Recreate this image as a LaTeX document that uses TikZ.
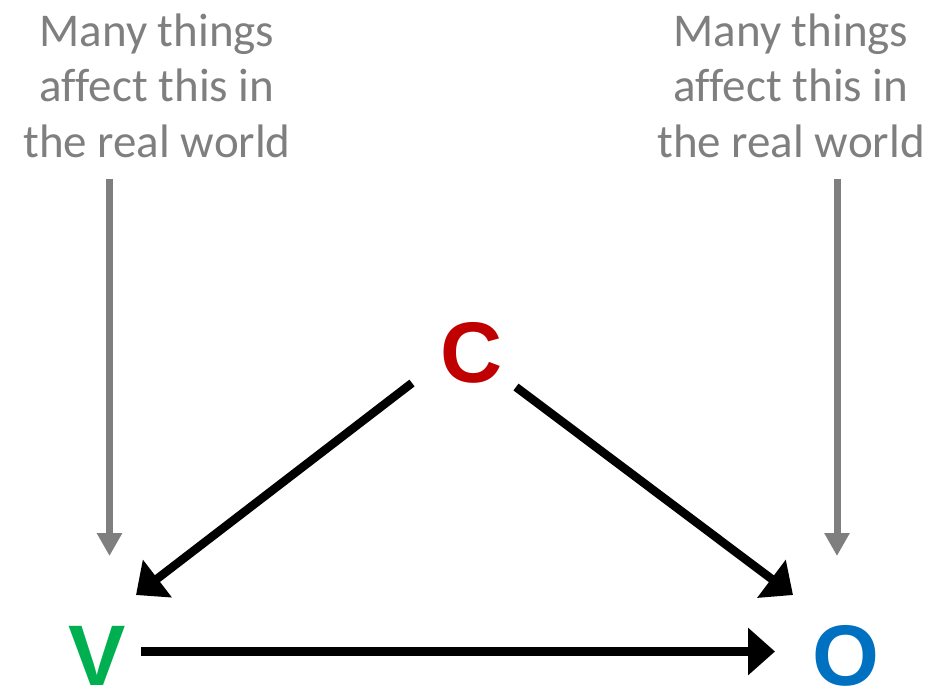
\documentclass[tikz,border=0pt]{standalone}
\usepackage{fontspec}
\setmainfont[Ligatures=NoCommon]{Carlito}
\newfontfamily\letterfont{Liberation Sans}
\usetikzlibrary{arrows.meta}
\definecolor{txtgray}{HTML}{7F7F7F}
\definecolor{cred}{HTML}{C00000}
\definecolor{vgreen}{HTML}{00B050}
\definecolor{oblue}{HTML}{0070C0}
\tikzset{
  note/.style={text=txtgray, inner sep=0pt, anchor=base, font=\fontsize{47}{56}\selectfont},
  letter/.style={inner sep=0pt, anchor=base, font=\letterfont\bfseries\fontsize{86}{90}\selectfont},
  grayarrow/.style={draw=txtgray, line width=7pt, -{Triangle[length=23pt,width=24pt]}},
  blackarrow/.style={draw=black, line width=8.5pt, -{Triangle[length=27pt,width=46pt]}}
}
\begin{document}
\begin{tikzpicture}[x=1pt,y=-1pt]
\useasboundingbox (0,0) rectangle (936,689);
% text blocks
\node[note] (l1) at (157,46) {Many things};
\node[note] (l2) at (157,101.5) {affect this in};
\node[note] (l3) at (157,157) {the real world};
\node[note] (r1) at (791,46) {Many things};
\node[note] (r2) at (791,101.5) {affect this in};
\node[note] (r3) at (791,157) {the real world};
% letters
\node[letter, text=cred] (C) at (471.5,382) {C};
\node[letter, text=vgreen] (V) at (97.5,685.5) {V};
\node[letter, text=oblue] (O) at (846,685.5) {O};
% endpoints
\coordinate (ls) at (109.5,179);
\coordinate (le) at (109.5,556);
\coordinate (rs) at (837,179);
\coordinate (re) at (837,556);
\coordinate (cvs) at (412,383);
\coordinate (cve) at (136,595);
\coordinate (cos) at (516,387);
\coordinate (coe) at (793,595);
\coordinate (vos) at (141,651.5);
\coordinate (voe) at (775,651.5);
% arrows
\draw[grayarrow] (ls) -- (le);
\draw[grayarrow] (rs) -- (re);
\draw[blackarrow] (cvs) -- (cve);
\draw[blackarrow] (cos) -- (coe);
\draw[blackarrow] (vos) -- (voe);
\end{tikzpicture}
\end{document}
